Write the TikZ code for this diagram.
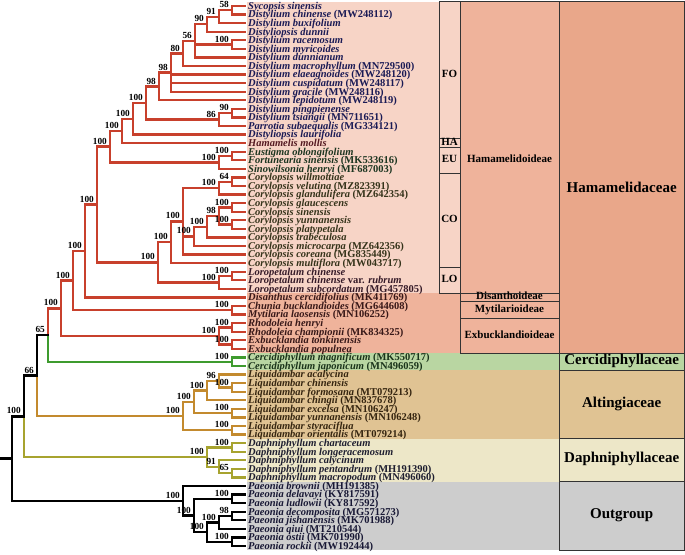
\documentclass[tikz,border=0pt]{standalone}
\usepackage{fontspec}
\setmainfont{Liberation Serif}
\usetikzlibrary{calc}
\definecolor{hred}{HTML}{C8402C}
\definecolor{cgreen}{HTML}{3E9B2E}
\definecolor{ltan}{HTML}{C38A2E}
\definecolor{dolive}{HTML}{A7A32F}
\definecolor{bgpink}{HTML}{F7D4C6}
\definecolor{bgsal}{HTML}{EFB39B}
\definecolor{bgham}{HTML}{E9A78A}
\definecolor{bgcer}{HTML}{B9D6A2}
\definecolor{bgalt}{HTML}{E0C393}
\definecolor{bgdap}{HTML}{EDE7C8}
\definecolor{bgout}{HTML}{CDCDCD}
\definecolor{tFO}{HTML}{1A1A55}
\definecolor{tHA}{HTML}{551A22}
\definecolor{tEU}{HTML}{1C3520}
\definecolor{tCO}{HTML}{35331A}
\definecolor{tLO}{HTML}{351A28}
\definecolor{tEX}{HTML}{381818}
\definecolor{tCE}{HTML}{1A331A}
\definecolor{tLI}{HTML}{352510}
\definecolor{tDA}{HTML}{1E1E30}
\definecolor{tPA}{HTML}{181835}
\definecolor{boxln}{HTML}{333333}
\newcommand\mknode[4]{\path let \p1=(#3), \p2=(#4) in ({#2pt},{(\y1+\y2)/2}) coordinate (#1);}
\newcommand\clade[3][black]{\foreach \ch in {#3}{\draw[branch,#1] (#2) |- (\ch);}}
\newcommand\supv[2]{\node[bs] (s-#1) at ($(#1)+(-3,-2.4)$) {#2};}
\newcommand\tipl[3]{\node[tip,text=#2] (L#1) at ($(t#1)+(3,3.3)$) {#3};}
\tikzset{
  branch/.style={line width=2.4pt, line cap=rect},
  bs/.style={font=\bfseries\fontsize{9.3}{10}\selectfont, anchor=base east, inner sep=0pt, text height=5.8pt, text depth=0pt},
  tip/.style={font=\bfseries\fontsize{10.5}{11}\selectfont, anchor=base west, inner sep=0pt, text height=6pt, text depth=1.6pt},
  boxd/.style={draw=boxln, line width=0.9pt},
  grpS/.style={font=\bfseries\fontsize{11}{12}\selectfont, inner sep=0pt, text height=0.7em, text depth=0.2em},
  grpL/.style={font=\bfseries\fontsize{15}{16}\selectfont, inner sep=0pt, text height=0.7em, text depth=0.2em}
}
\begin{document}
\begin{tikzpicture}[x=1pt,y=-1pt]
\useasboundingbox[fill=white] (0,0) rectangle (685,554);
% background bands
\fill[bgpink] (246.5,1.7) rectangle (460,293.14);
\fill[bgsal] (246.5,293.14) rectangle (559,353.14);
\fill[bgsal] (460,1.7) rectangle (559,293.14);
\fill[bgham] (559,1.7) rectangle (684.5,353.14);
\fill[bgcer] (246.5,353.14) rectangle (684.5,370.29);
\fill[bgalt] (246.5,370.29) rectangle (684.5,438.86);
\fill[bgdap] (246.5,438.86) rectangle (684.5,481.71);
\fill[bgout] (246.5,481.71) rectangle (684.5,550.29);
% boxes
\draw[boxd] (439,1.7) rectangle (460,138.86);
\draw[boxd] (439,138.86) rectangle (460,147.43);
\draw[boxd] (439,147.43) rectangle (460,173.14);
\draw[boxd] (439,173.14) rectangle (460,267.43);
\draw[boxd] (439,267.43) rectangle (460,293.14);
\draw[boxd] (460,1.7) rectangle (559,293.14);
\draw[boxd] (460,293.14) rectangle (559,301.71);
\draw[boxd] (460,301.71) rectangle (559,318.86);
\draw[boxd] (460,318.86) rectangle (559,353.14);
\draw[boxd] (559,1.7) rectangle (684.5,353.14);
\draw[boxd] (559,353.14) rectangle (684.5,370.29);
\draw[boxd] (559,370.29) rectangle (684.5,438.86);
\draw[boxd] (559,438.86) rectangle (684.5,481.71);
\draw[boxd] (559,481.71) rectangle (684.5,550.29);
\node[grpS] (gFO) at (449.5,75) {FO};
\node[grpS] (gHA) at (449.5,143.1) {HA};
\node[grpS] (gEU) at (449.5,160.3) {EU};
\node[grpS] (gCO) at (449.5,220.3) {CO};
\node[grpS] (gLO) at (449.5,280.3) {LO};
\node[grpS] (gHam) at (509.5,160.3) {Hamamelidoideae};
\node[grpS] (gDis) at (509.5,297.4) {Disanthoideae};
\node[grpS] (gMyt) at (509.5,310.3) {Mytilarioideae};
\node[grpS] (gExb) at (509.5,336) {Exbucklandioideae};
\node[grpL] (fHam) at (621.7,190) {Hamamelidaceae};
\node[grpL] (fCer) at (621.7,361.7) {Cercidiphyllaceae};
\node[grpL] (fAlt) at (621.7,404.6) {Altingiaceae};
\node[grpL] (fDap) at (621.7,460.3) {Daphniphyllaceae};
\node[grpL] (fOut) at (621.7,516) {Outgroup};
% tips
\foreach \k in {1,...,64} \coordinate (t\k) at (245,{6+(\k-1)*8.5714});
% internal nodes
\mknode{a58}{232}{t1}{t2}
\mknode{a91}{219}{a58}{t3}
\mknode{a90}{207}{a91}{t4}
\mknode{a100r}{232}{t5}{t6}
\mknode{a56}{195}{a90}{t7}
\mknode{a80}{183}{a56}{t8}
\mknode{a98a}{171}{a80}{t11}
\mknode{a98b}{159}{a98a}{t12}
\mknode{a90b}{232}{t13}{t14}
\mknode{a86}{219}{a90b}{t15}
\mknode{a100b}{146}{a98b}{a86}
\mknode{a100c}{133}{a100b}{t16}
\mknode{a100d}{122}{a100c}{t17}
\mknode{e100}{232}{t18}{t19}
\mknode{e100b}{219}{e100}{t20}
\mknode{a100g}{110}{a100d}{e100b}
\mknode{c64}{232}{t21}{t22}
\mknode{c100h}{219}{c64}{t23}
\mknode{c100i}{232}{t24}{t25}
\mknode{c100j}{232}{t26}{t27}
\mknode{c98}{219}{c100i}{c100j}
\mknode{c100k}{207}{c98}{t28}
\mknode{c100l}{194}{c100k}{t29}
\mknode{c100m}{183}{c100h}{t30}
\mknode{c100n}{171}{c100m}{t31}
\mknode{l100o}{232}{t32}{t33}
\mknode{l100p}{219}{l100o}{t34}
\mknode{cl100q}{158}{c100n}{l100p}
\mknode{nA}{97}{a100g}{cl100q}
\mknode{nB}{85}{nA}{t35}
\mknode{m100}{232}{t36}{t37}
\mknode{nC}{73}{nB}{m100}
\mknode{r100}{232}{t38}{t39}
\mknode{x100}{232}{t40}{t41}
\mknode{rx100}{219}{r100}{x100}
\mknode{nD}{61}{nC}{rx100}
\mknode{ce100}{232}{t42}{t43}
\mknode{nE}{48}{nD}{ce100}
\mknode{li100a}{232}{t45}{t46}
\mknode{li96}{219}{t44}{li100a}
\mknode{li100b}{207}{li96}{t47}
\mknode{li100c}{232}{t48}{t49}
\mknode{li100d}{194}{li100b}{li100c}
\mknode{li100e}{232}{t50}{t51}
\mknode{li100f}{183}{li100d}{li100e}
\mknode{nF}{37}{nE}{li100f}
\mknode{d100a}{232}{t52}{t53}
\mknode{d65}{232}{t55}{t56}
\mknode{d91}{219}{t54}{d65}
\mknode{d100b}{207}{d100a}{d91}
\mknode{nG}{24}{nF}{d100b}
\mknode{p100a}{232}{t58}{t59}
\mknode{p98}{232}{t60}{t61}
\mknode{p100b}{219}{p98}{t62}
\mknode{p100c}{232}{t63}{t64}
\mknode{p100d}{207}{p100b}{p100c}
\mknode{p100e}{194}{p100a}{p100d}
\mknode{p100f}{183}{t57}{p100e}
\mknode{root}{12}{nG}{p100f}
\path (root) ++(-12,0) coordinate (stub);
% branches
\clade[hred]{a58}{t1,t2}
\clade[hred]{a91}{a58,t3}
\clade[hred]{a90}{a91,t4}
\clade[hred]{a100r}{t5,t6}
\clade[hred]{a56}{a90,a100r,t7}
\clade[hred]{a80}{a56,t8}
\clade[hred]{a98a}{a80,t9,t10,t11}
\clade[hred]{a98b}{a98a,t12}
\clade[hred]{a90b}{t13,t14}
\clade[hred]{a86}{a90b,t15}
\clade[hred]{a100b}{a98b,a86}
\clade[hred]{a100c}{a100b,t16}
\clade[hred]{a100d}{a100c,t17}
\clade[hred]{e100}{t18,t19}
\clade[hred]{e100b}{e100,t20}
\clade[hred]{a100g}{a100d,e100b}
\clade[hred]{c64}{t21,t22}
\clade[hred]{c100h}{c64,t23}
\clade[hred]{c100i}{t24,t25}
\clade[hred]{c100j}{t26,t27}
\clade[hred]{c98}{c100i,c100j}
\clade[hred]{c100k}{c98,t28}
\clade[hred]{c100l}{c100k,t29}
\clade[hred]{c100m}{c100h,c100l,t30}
\clade[hred]{c100n}{c100m,t31}
\clade[hred]{l100o}{t32,t33}
\clade[hred]{l100p}{l100o,t34}
\clade[hred]{cl100q}{c100n,l100p}
\clade[hred]{nA}{a100g,cl100q}
\clade[hred]{nB}{nA,t35}
\clade[hred]{m100}{t36,t37}
\clade[hred]{nC}{nB,m100}
\clade[hred]{r100}{t38,t39}
\clade[hred]{x100}{t40,t41}
\clade[hred]{rx100}{r100,x100}
\clade[hred]{nD}{nC,rx100}
\clade[cgreen]{ce100}{t42,t43}
\clade[hred]{nE}{nD}
\clade[cgreen]{nE}{ce100}
\clade[ltan]{li100a}{t45,t46}
\clade[ltan]{li96}{t44,li100a}
\clade[ltan]{li100b}{li96,t47}
\clade[ltan]{li100c}{t48,t49}
\clade[ltan]{li100d}{li100b,li100c}
\clade[ltan]{li100e}{t50,t51}
\clade[ltan]{li100f}{li100d,li100e}
\clade{nF}{nE}
\clade[ltan]{nF}{li100f}
\clade[dolive]{d100a}{t52,t53}
\clade[dolive]{d65}{t55,t56}
\clade[dolive]{d91}{t54,d65}
\clade[dolive]{d100b}{d100a,d91}
\clade{nG}{nF}
\clade[dolive]{nG}{d100b}
\clade{p100a}{t58,t59}
\clade{p98}{t60,t61}
\clade{p100b}{p98,t62}
\clade{p100c}{t63,t64}
\clade{p100d}{p100b,p100c}
\clade{p100e}{p100a,p100d}
\clade{p100f}{t57,p100e}
\clade{root}{nG,p100f}
\draw[branch] (stub) -- (root);
% support values
\supv{a58}{58}\supv{a91}{91}\supv{a90}{90}\supv{a100r}{100}\supv{a56}{56}
\supv{a80}{80}\supv{a98a}{98}\supv{a98b}{98}\supv{a90b}{90}\supv{a86}{86}
\supv{a100b}{100}\supv{a100c}{100}\supv{a100d}{100}\supv{e100}{100}\supv{e100b}{100}
\supv{a100g}{100}\supv{c64}{64}\supv{c100h}{100}\supv{c100i}{100}\supv{c100j}{100}
\supv{c98}{98}\supv{c100k}{100}\supv{c100l}{100}\supv{c100m}{100}\supv{c100n}{100}
\supv{l100o}{100}\supv{l100p}{100}\supv{cl100q}{100}\supv{nA}{100}\supv{nB}{100}
\supv{m100}{100}\supv{nC}{100}\supv{r100}{100}\supv{x100}{100}\supv{rx100}{100}
\supv{nD}{100}\supv{ce100}{100}\supv{nE}{65}\supv{li100a}{100}\supv{li96}{96}
\supv{li100b}{100}\supv{li100c}{100}\supv{li100d}{100}\supv{li100e}{100}\supv{li100f}{100}
\supv{nF}{66}\supv{d100a}{100}\supv{d65}{65}\supv{d91}{91}\supv{d100b}{100}
\supv{nG}{100}\supv{p100a}{100}\supv{p98}{98}\supv{p100b}{100}\supv{p100c}{100}
\supv{p100d}{100}\supv{p100e}{100}\supv{p100f}{100}
% tip labels
\tipl{1}{tFO}{\textit{Sycopsis sinensis}}
\tipl{2}{tFO}{\textit{Distylium chinense} (MW248112)}
\tipl{3}{tFO}{\textit{Distylium buxifolium}}
\tipl{4}{tFO}{\textit{Distyliopsis dunnii}}
\tipl{5}{tFO}{\textit{Distylium racemosum}}
\tipl{6}{tFO}{\textit{Distylium myricoides}}
\tipl{7}{tFO}{\textit{Distylium dunnianum}}
\tipl{8}{tFO}{\textit{Distylium macrophyllum} (MN729500)}
\tipl{9}{tFO}{\textit{Distylium elaeagnoides} (MW248120)}
\tipl{10}{tFO}{\textit{Distylium cuspidatum} (MW248117)}
\tipl{11}{tFO}{\textit{Distylium gracile} (MW248116)}
\tipl{12}{tFO}{\textit{Distylium lepidotum} (MW248119)}
\tipl{13}{tFO}{\textit{Distylium pingpienense}}
\tipl{14}{tFO}{\textit{Distylium tsiangii} (MN711651)}
\tipl{15}{tFO}{\textit{Parrotia subaequalis} (MG334121)}
\tipl{16}{tFO}{\textit{Distyliopsis laurifolia}}
\tipl{17}{tHA}{\textit{Hamamelis mollis}}
\tipl{18}{tEU}{\textit{Eustigma oblongifolium}}
\tipl{19}{tEU}{\textit{Fortunearia sinensis} (MK533616)}
\tipl{20}{tEU}{\textit{Sinowilsonia henryi} (MF687003)}
\tipl{21}{tCO}{\textit{Corylopsis willmottiae}}
\tipl{22}{tCO}{\textit{Corylopsis velutina} (MZ823391)}
\tipl{23}{tCO}{\textit{Corylopsis glandulifera} (MZ642354)}
\tipl{24}{tCO}{\textit{Corylopsis glaucescens}}
\tipl{25}{tCO}{\textit{Corylopsis sinensis}}
\tipl{26}{tCO}{\textit{Corylopsis yunnanensis}}
\tipl{27}{tCO}{\textit{Corylopsis platypetala}}
\tipl{28}{tCO}{\textit{Corylopsis trabeculosa}}
\tipl{29}{tCO}{\textit{Corylopsis microcarpa} (MZ642356)}
\tipl{30}{tCO}{\textit{Corylopsis coreana} (MG835449)}
\tipl{31}{tCO}{\textit{Corylopsis multiflora} (MW043717)}
\tipl{32}{tLO}{\textit{Loropetalum chinense}}
\tipl{33}{tLO}{\textit{Loropetalum chinense} var. \textit{rubrum}}
\tipl{34}{tLO}{\textit{Loropetalum subcordatum} (MG457805)}
\tipl{35}{tEX}{\textit{Disanthus cercidifolius} (MK411769)}
\tipl{36}{tEX}{\textit{Chunia bucklandioides} (MG644608)}
\tipl{37}{tEX}{\textit{Mytilaria laosensis} (MN106252)}
\tipl{38}{tEX}{\textit{Rhodoleia henryi}}
\tipl{39}{tEX}{\textit{Rhodoleia championii} (MK834325)}
\tipl{40}{tEX}{\textit{Exbucklandia tonkinensis}}
\tipl{41}{tEX}{\textit{Exbucklandia populnea}}
\tipl{42}{tCE}{\textit{Cercidiphyllum magnificum} (MK550717)}
\tipl{43}{tCE}{\textit{Cercidiphyllum japonicum} (MN496059)}
\tipl{44}{tLI}{\textit{Liquidambar acalycina}}
\tipl{45}{tLI}{\textit{Liquidambar chinensis}}
\tipl{46}{tLI}{\textit{Liquidambar formosana} (MT079213)}
\tipl{47}{tLI}{\textit{Liquidambar chingii} (MN837678)}
\tipl{48}{tLI}{\textit{Liquidambar excelsa} (MN106247)}
\tipl{49}{tLI}{\textit{Liquidambar yunnanensis} (MN106248)}
\tipl{50}{tLI}{\textit{Liquidambar styraciflua}}
\tipl{51}{tLI}{\textit{Liquidambar orientalis} (MT079214)}
\tipl{52}{tDA}{\textit{Daphniphyllum chartaceum}}
\tipl{53}{tDA}{\textit{Daphniphyllum longeracemosum}}
\tipl{54}{tDA}{\textit{Daphniphyllum calycinum}}
\tipl{55}{tDA}{\textit{Daphniphyllum pentandrum} (MH191390)}
\tipl{56}{tDA}{\textit{Daphniphyllum macropodum} (MN496060)}
\tipl{57}{tPA}{\textit{Paeonia brownii} (MH191385)}
\tipl{58}{tPA}{\textit{Paeonia delavayi} (KY817591)}
\tipl{59}{tPA}{\textit{Paeonia ludlowii} (KY817592)}
\tipl{60}{tPA}{\textit{Paeonia decomposita} (MG571273)}
\tipl{61}{tPA}{\textit{Paeonia jishanensis} (MK701988)}
\tipl{62}{tPA}{\textit{Paeonia qiui} (MT210544)}
\tipl{63}{tPA}{\textit{Paeonia ostii} (MK701990)}
\tipl{64}{tPA}{\textit{Paeonia rockii} (MW192444)}
\end{tikzpicture}
\end{document}
